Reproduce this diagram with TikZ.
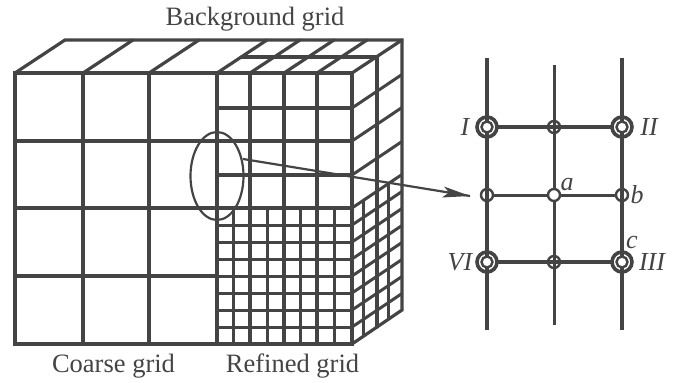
\documentclass[tikz,border=0pt]{standalone}
\usepackage{fontspec}
\usetikzlibrary{shapes.geometric}
\setmainfont{Liberation Serif}
\definecolor{ink}{HTML}{444444}
\tikzset{
 grid/.style={draw=ink,line width=3.2pt,line cap=round},
 fine/.style={draw=ink,line width=3pt},
 lab/.style={text=ink,font=\fontsize{26.5}{26.5}\selectfont,inner sep=0pt,anchor=base},
 ilab/.style={text=ink,font=\fontsize{26}{26}\selectfont\itshape,inner sep=0pt,anchor=base},
 smalldot/.style={circle,draw=ink,line width=2.4pt,minimum size=12pt,inner sep=0pt},
 bigline/.style={draw=ink,line width=3.6pt},
 thinline/.style={draw=ink,line width=3pt},
}
\begin{document}
\begin{tikzpicture}[x=1pt,y=-1pt]
\useasboundingbox (0,0) rectangle (675,383);
% top face
\draw[grid] (15,73) -- (65,40) -- (402,40) -- (402,310) -- (352,344);
\foreach \x in {83,149,217,250,284,317,352} \draw[grid] (\x,73) -- (\x+50,40);
\draw[grid] (242,57) -- (377,57) -- (377,327);
% front
\draw[grid] (15,73) rectangle (352,344);
\foreach \x in {83,149} \draw[grid] (\x,73) -- (\x,344);
\foreach \y in {141,208,276} \draw[grid] (15,\y) -- (217,\y);
\draw[grid] (217,73) -- (217,344);
\foreach \x in {250,284,317} \draw[grid] (\x,73) -- (\x,344);
\foreach \y in {108,141,175,208} \draw[grid] (217,\y) -- (352,\y);
\foreach \x in {233.5,267,300.5,334} \draw[fine] (\x,208) -- (\x,344);
\foreach \y in {225,242,259,276,293,310,327} \draw[fine] (217,\y) -- (352,\y);
% right face
\foreach \y in {108,141,175,208,225,242,259,276,293,310,327} \draw[fine] (352,\y) -- (402,\y-33.5);
\foreach \x/\t in {363/201,388/184} \draw[fine] (\x,\t) -- (\x,\t+136);
% ellipse and arrow
\node[draw=ink,line width=2.2pt,ellipse,minimum width=53pt,minimum height=88pt,inner sep=0pt] (zone) at (217,176) {};
\coordinate (from) at (243,159);
\coordinate (to) at (470,196);
% detail
\coordinate (t1) at (487,58); \coordinate (t2) at (554,65); \coordinate (t3) at (622,58);
\coordinate (b1) at (487,330); \coordinate (b2) at (554,325); \coordinate (b3) at (622,330);
\node[circle,minimum size=20pt,inner sep=0pt] (I) at (487,127) {};
\node[circle,minimum size=20pt,inner sep=0pt] (II) at (622,127) {};
\node[circle,minimum size=20pt,inner sep=0pt] (III) at (622,262) {};
\node[circle,minimum size=20pt,inner sep=0pt] (VI) at (487,262) {};
\draw[bigline] (t1) -- (I.center) -- (VI.center) -- (b1);
\draw[bigline] (t3) -- (II.center) -- (III.center) -- (b3);
\draw[thinline] (t2) -- (b2);
\draw[bigline] (I) -- (II);
\draw[bigline] (VI) -- (III);
\node[smalldot] (m1) at (554,127) {};
\node[smalldot] (m2) at (554,262) {};
\node[smalldot] (l) at (487,195) {};
\node[smalldot] (r) at (622,195) {};
\draw[thinline] (l) -- (r);
\node[smalldot,fill=white] (a) at (554,195) {};
\foreach \n in {I,II,III,VI}{
  \draw[ink,line width=3.6pt] (\n.center) circle[radius=10pt];
  \draw[ink,line width=2.4pt,fill=white] (\n.center) circle[radius=5.5pt];
}
\draw[draw=ink,line width=2.2pt] (from) -- (to);
\fill[ink] (470,196) -- (442,197.5) -- (449,192.5) -- (444,186.5) -- cycle;
% labels
\node[lab] (tb) at (255,25) {Background grid};
\node[lab] (tc) at (113.5,372) {Coarse grid};
\node[lab] (tr) at (292.5,372) {Refined grid};
\node[ilab] at (465,135) {I};
\node[ilab] at (649,135) {II};
\node[ilab] at (460,270) {VI};
\node[ilab] at (652,270) {III};
\node[ilab] at (567,190) {a};
\node[ilab] at (637,203) {b};
\node[ilab] at (632,248) {c};
\end{tikzpicture}
\end{document}
